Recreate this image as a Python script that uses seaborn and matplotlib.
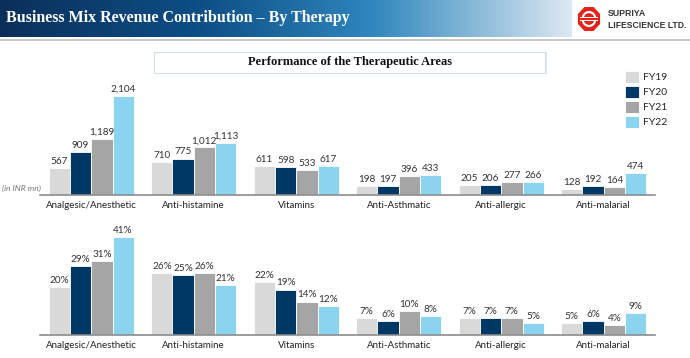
import os
import numpy as np
import pandas as pd
import matplotlib
matplotlib.use("Agg")
import matplotlib.pyplot as plt
from matplotlib.patches import Rectangle, RegularPolygon, Circle
from matplotlib.colors import LinearSegmentedColormap
from matplotlib import font_manager as fm
import seaborn as sns

# ---------------- data ----------------
therapies = ["Analgesic/Anesthetic", "Anti-histamine", "Vitamins",
             "Anti-Asthmatic", "Anti-allergic", "Anti-malarial"]
years = ["FY19", "FY20", "FY21", "FY22"]
revenue_fy19 = [567, 710, 611, 198, 205, 128]
revenue_fy20 = [909, 775, 598, 197, 206, 192]
revenue_fy21 = [1189, 1012, 533, 396, 277, 164]
revenue_fy22 = [2104, 1113, 617, 433, 266, 474]
share_fy19 = [20, 26, 22, 7, 7, 5]
share_fy20 = [29, 25, 19, 6, 7, 6]
share_fy21 = [31, 26, 14, 10, 7, 4]
share_fy22 = [41, 21, 12, 8, 5, 9]

colors = ["#d9d9d9", "#003865", "#a5a5a5", "#8ad4f0"]

def long_df(series):
    rows = []
    for y, vals in zip(years, series):
        for t, v in zip(therapies, vals):
            rows.append({"Therapy": t, "Year": y, "Value": v})
    return pd.DataFrame(rows)

rev_df = long_df([revenue_fy19, revenue_fy20, revenue_fy21, revenue_fy22])
share_df = long_df([share_fy19, share_fy20, share_fy21, share_fy22])

sns.set_theme(style="white")
plt.rcParams["font.family"] = ["Lato", "DejaVu Sans"]

W, H = 690, 358
fig = plt.figure(figsize=(W / 100, H / 100), dpi=100)
fig.patch.set_facecolor("white")
renderer = fig.canvas.get_renderer()

def fbox(x0, y0, x1, y1):
    return [x0 / W, 1 - y1 / H, (x1 - x0) / W, (y1 - y0) / H]

def fit_text(t, width_px, size):
    t.set_fontsize(size)
    w = t.get_window_extent(renderer=renderer).width
    if w > width_px:
        t.set_fontsize(size * width_px / w)

# ---------------- header ----------------
hax = fig.add_axes(fbox(0, 0, 572, 37))
grad = np.linspace(0, 1, 256)
cmap = LinearSegmentedColormap.from_list(
    "hdr", [(0, "#0b2f5a"), (0.35, "#0d4f86"), (0.65, "#2f86bd"), (1.0, "#dce8f1")])
hax.imshow(grad[None, :], aspect="auto", cmap=cmap, extent=[0, 1, 0, 1])
hax.set_axis_off()

title_fp = fm.FontProperties(family=["Liberation Serif", "DejaVu Serif"], weight="bold")
title = fig.text(6 / W, 1 - 18 / H, "Business Mix Revenue Contribution \u2013 By Therapy",
                 color="white", fontproperties=title_fp, va="center", ha="left")
title.set_fontsize(11.5)

fig.add_artist(Rectangle((0, 1 - 41 / H), 1, 2 / H, transform=fig.transFigure,
                         facecolor="#c8c8c8", edgecolor="none"))

# logo
lax = fig.add_axes(fbox(577, 6, 601, 32))
lax.set_xlim(-1, 1); lax.set_ylim(-1, 1); lax.set_axis_off()
lax.add_patch(RegularPolygon((0, 0), 8, radius=1.0, orientation=np.pi / 8,
                             facecolor="#e2231a", edgecolor="none"))
lax.add_patch(Circle((0, 0), 0.62, facecolor="white", edgecolor="none"))
lax.add_patch(Circle((0, 0), 0.45, facecolor="#e2231a", edgecolor="none"))
for yy in (-0.12, 0.12):
    lax.add_patch(Rectangle((-0.75, yy - 0.05), 1.5, 0.1, facecolor="white", edgecolor="none"))
lax.add_patch(Rectangle((-0.9, -0.05), 1.8, 0.1, facecolor="#e2231a", edgecolor="none"))
logo_fp = fm.FontProperties(family=["Liberation Sans", "DejaVu Sans"], weight="bold")
t1 = fig.text(608 / W, 1 - 14 / H, "SUPRIYA", fontproperties=logo_fp,
              color="#333333", va="center", ha="left")
t1.set_fontsize(6.3)
t2 = fig.text(608 / W, 1 - 25 / H, "LIFESCIENCE LTD.", fontproperties=logo_fp,
              color="#333333", va="center", ha="left")
fit_text(t2, 79, 6.3)

# subtitle box
fig.add_artist(Rectangle((155 / W, 1 - 74 / H), 392 / W, 22 / H, transform=fig.transFigure,
                         facecolor="#dfe7f1", edgecolor="none"))
fig.add_artist(Rectangle((154 / W, 1 - 73 / H), 391 / W, 21 / H, transform=fig.transFigure,
                         facecolor="white", edgecolor="#d5dfea", linewidth=0.8))
fig.text(350 / W, 1 - 62 / H, "Performance of the Therapeutic Areas", fontsize=9,
         fontweight="bold", family=["Liberation Serif", "DejaVu Serif"],
         ha="center", va="center", color="#111111")

# ---------------- charts ----------------
def draw(ax, df, ymax, fmt):
    sns.barplot(data=df, x="Therapy", y="Value", hue="Year", palette=colors,
                hue_order=years, order=therapies, ax=ax, width=0.83,
                saturation=1, edgecolor="white", linewidth=0.6, legend=True)
    for cont in ax.containers:
        ax.bar_label(cont, labels=[fmt(v) for v in cont.datavalues],
                     fontsize=7.2, color="#333333", padding=1.5)
    ax.set_ylim(0, ymax)
    ax.set_xlim(-0.5, len(therapies) - 0.5)
    ax.set_xlabel(""); ax.set_ylabel("")
    ax.set_yticks([])
    for s in ("top", "left", "right"):
        ax.spines[s].set_visible(False)
    ax.spines["bottom"].set_color("#8c8c8c")
    ax.spines["bottom"].set_linewidth(1.2)
    ax.tick_params(axis="x", length=0, pad=4, labelsize=7, labelcolor="#222222")
    ax.set_facecolor("none")

ax1 = fig.add_axes(fbox(40, 80, 655, 195))
draw(ax1, rev_df, 2444, lambda v: f"{int(v):,}")
handles, labels = ax1.get_legend_handles_labels()
ax1.get_legend().remove()

ax2 = fig.add_axes(fbox(40, 225, 655, 335))
draw(ax2, share_df, 46.0, lambda v: f"{int(v)}%")
ax2.get_legend().remove()

fig.legend(handles, labels, loc="upper left",
           bbox_to_anchor=(621 / W, 1 - 67 / H), frameon=False,
           fontsize=7.5, handlelength=1.3, handleheight=1.3,
           labelspacing=0.35, handletextpad=0.4, borderaxespad=0)

fig.text(2 / W, 1 - 188 / H, "(in INR mn)", fontsize=6, style="italic",
         color="#777777", va="center", ha="left")

fig.savefig("out.png", dpi=100, facecolor="white")
